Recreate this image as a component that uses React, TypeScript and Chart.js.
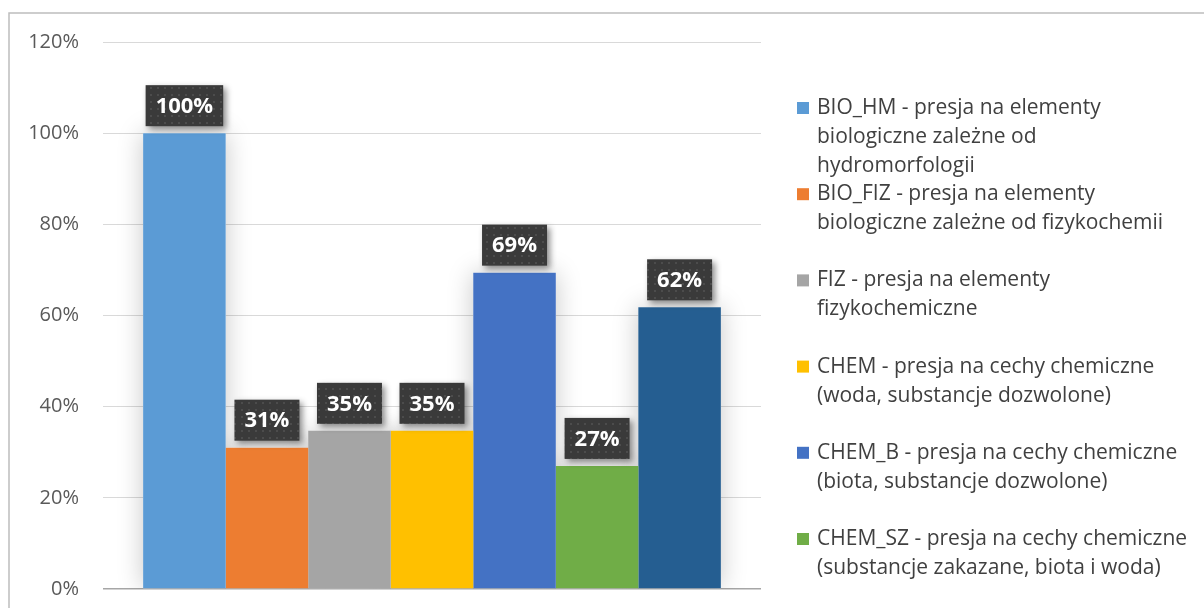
import React, { useEffect, useRef } from 'react';
import { Chart, registerables } from 'chart.js';

Chart.register(...registerables);

const categories = [''];
const seriesLabels = [
  ['BIO_HM - presja na elementy', 'biologiczne zależne od', 'hydromorfologii'],
  ['BIO_FIZ - presja na elementy', 'biologiczne zależne od fizykochemii'],
  ['FIZ - presja na elementy', 'fizykochemiczne'],
  ['CHEM - presja na cechy chemiczne', '(woda, substancje dozwolone)'],
  ['CHEM_B - presja na cechy chemiczne', '(biota, substancje dozwolone)'],
  ['CHEM_SZ - presja na cechy chemiczne', '(substancje zakazane, biota i woda)'],
  ['CHEM_Ł - presja na cechy chemiczne', '(łącznie)'],
];
const seriesValues = [1.0, 0.31, 0.347, 0.347, 0.694, 0.27, 0.618];
const seriesColors = ['#5B9BD5', '#ED7D31', '#A5A5A5', '#FFC000', '#4472C4', '#70AD47', '#255E91'];
const yTickValues = [0, 0.2, 0.4, 0.6, 0.8, 1.0, 1.2];

const FONT = '"Open Sans", "Noto Sans", sans-serif';
const pct = (v: number) => Math.round(v * 100) + '%';

function makePattern(ctx: CanvasRenderingContext2D) {
  const c = document.createElement('canvas');
  c.width = 7;
  c.height = 7;
  const p = c.getContext('2d')!;
  p.fillStyle = '#3a3a3a';
  p.fillRect(0, 0, 7, 7);
  p.fillStyle = '#4c4c4c';
  p.fillRect(3, 3, 2, 2);
  return ctx.createPattern(c, 'repeat') || '#3a3a3a';
}

const effectsPlugin = {
  id: 'effects',
  beforeDraw(chart: any) {
    const { ctx } = chart;
    ctx.save();
    ctx.fillStyle = '#ffffff';
    ctx.fillRect(0, 0, chart.width, chart.height);
    ctx.strokeStyle = '#bdbdbd';
    ctx.lineWidth = 1.5;
    ctx.strokeRect(9, 13, chart.width + 50, chart.height + 50);
    ctx.restore();
  },
  beforeDatasetsDraw(chart: any) {
    const { ctx, chartArea } = chart;
    ctx.save();
    ctx.beginPath();
    ctx.rect(chartArea.left, chartArea.top - 30, chartArea.right - chartArea.left, chartArea.bottom - chartArea.top + 30);
    ctx.clip();
    ctx.shadowColor = 'rgba(0,0,0,0.22)';
    ctx.shadowBlur = 24;
    ctx.fillStyle = '#ffffff';
    chart.data.datasets.forEach((_: any, i: number) => {
      chart.getDatasetMeta(i).data.forEach((el: any) => {
        const { x, y, base, width } = el.getProps(['x', 'y', 'base', 'width'], true);
        ctx.fillRect(x - width / 2, y, width, base - y);
      });
    });
    ctx.restore();
  },
  afterDatasetsDraw(chart: any) {
    const { ctx } = chart;
    const pattern = makePattern(ctx);
    chart.data.datasets.forEach((ds: any, i: number) => {
      chart.getDatasetMeta(i).data.forEach((el: any, j: number) => {
        const { x, y } = el.getProps(['x', 'y'], true);
        const txt = pct(ds.data[j]);
        ctx.save();
        ctx.font = 'bold 22px ' + FONT;
        const tw = ctx.measureText(txt).width;
        const bw = tw + 20;
        const bh = 41;
        const bx = x - bw / 2;
        const by = y - 7 - bh;
        ctx.shadowColor = 'rgba(0,0,0,0.45)';
        ctx.shadowBlur = 6;
        ctx.shadowOffsetX = 3;
        ctx.shadowOffsetY = 3;
        ctx.fillStyle = pattern;
        ctx.fillRect(bx, by, bw, bh);
        ctx.restore();
        ctx.save();
        ctx.font = 'bold 22px ' + FONT;
        ctx.fillStyle = '#ffffff';
        ctx.textAlign = 'center';
        ctx.textBaseline = 'middle';
        ctx.fillText(txt, x, by + bh / 2 + 1);
        ctx.restore();
      });
    });
  },
  afterDraw(chart: any) {
    const { ctx } = chart;
    const x0 = 797;
    const firstY = 108;
    const slot = 86.2;
    const lineH = 29;
    ctx.save();
    ctx.font = '21px ' + FONT;
    ctx.textBaseline = 'middle';
    ctx.textAlign = 'left';
    chart.data.datasets.forEach((ds: any, i: number) => {
      const cy = firstY + i * slot;
      ctx.fillStyle = ds.backgroundColor;
      ctx.fillRect(x0, cy - 6, 12, 12);
      ctx.fillStyle = '#404040';
      (ds.legendLines as string[]).forEach((line, k) => {
        ctx.fillText(line, x0 + 20, cy + k * lineH);
      });
    });
    ctx.restore();
  },
};

export default function App() {
  const ref = useRef<HTMLCanvasElement | null>(null);
  useEffect(() => {
    if (!ref.current) return;
    const chart = new Chart(ref.current, {
      type: 'bar',
      data: {
        labels: categories,
        datasets: seriesLabels.map((lines, i) => ({
          label: lines.join(' '),
          legendLines: lines,
          data: [seriesValues[i]],
          backgroundColor: seriesColors[i],
          borderWidth: 0,
          categoryPercentage: 0.878,
          barPercentage: 1,
        })) as any,
      },
      options: {
        animation: false,
        responsive: true,
        maintainAspectRatio: false,
        layout: { padding: { left: 0, right: 443, top: 42, bottom: 19 } },
        plugins: { legend: { display: false }, tooltip: { enabled: false } },
        scales: {
          x: { display: false },
          y: {
            min: 0,
            max: 1.2,
            afterFit: (scale: any) => {
              scale.width = 103;
              scale.paddingTop = 0;
              scale.paddingBottom = 0;
            },
            afterBuildTicks: (scale: any) => {
              scale.ticks = yTickValues.map((v) => ({ value: v }));
            },
            border: { display: false },
            grid: {
              drawTicks: false,
              color: (c: any) => (c.tick && c.tick.value === 0 ? '#a6a6a6' : '#d9d9d9'),
              lineWidth: (c: any) => (c.tick && c.tick.value === 0 ? 1.5 : 1),
            },
            ticks: {
              padding: 24,
              color: '#595959',
              font: { family: FONT, size: 20 },
              callback: (v: any) => pct(Number(v)),
            },
          },
        },
      },
      plugins: [effectsPlugin],
    });
    return () => chart.destroy();
  }, []);
  return (
    <div style={{ position: 'fixed', left: 0, top: 0, width: 1204, height: 608 }}>
      <canvas ref={ref} />
    </div>
  );
}
